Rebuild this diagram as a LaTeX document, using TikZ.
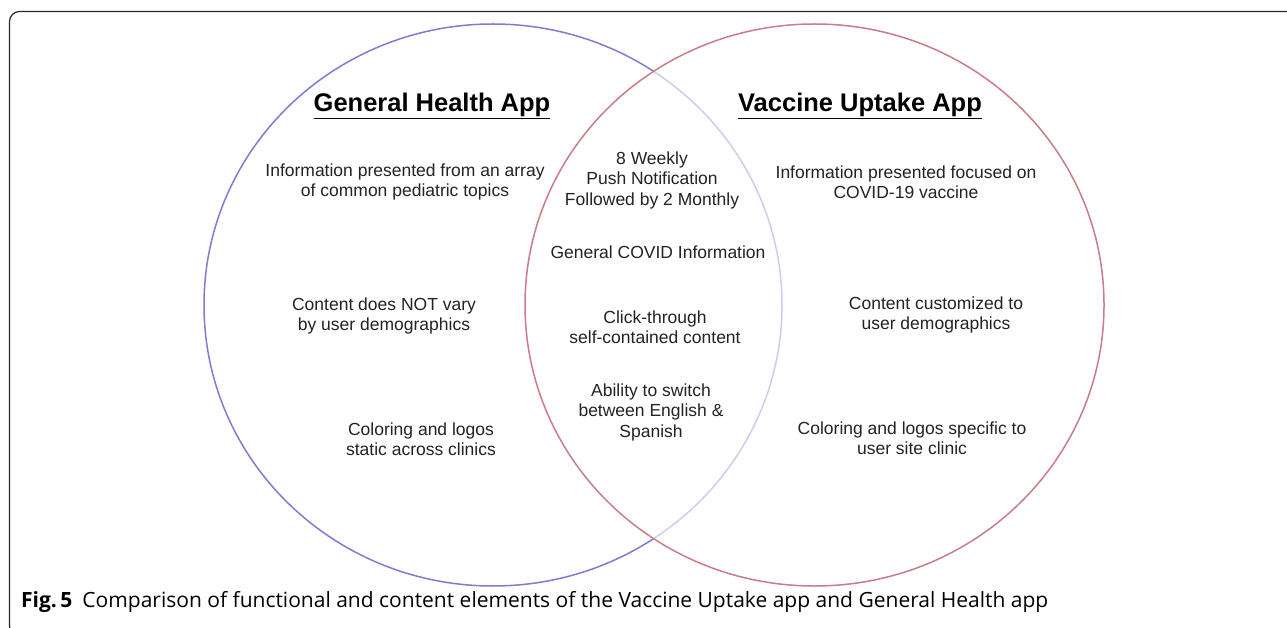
\documentclass[tikz,border=0pt]{standalone}
\usepackage{fontspec}
\setmainfont{Liberation Sans}
\newfontfamily\capfont{Open Sans}
\definecolor{vblue}{RGB}{125,125,208}
\definecolor{vred}{RGB}{200,125,135}
\definecolor{txt}{RGB}{35,35,35}
\definecolor{framec}{RGB}{40,40,40}
\tikzset{
  body/.style={align=center, text=txt, font=\fontsize{17.5}{20.5}\selectfont, inner sep=0pt},
  title/.style={align=center, text=black, font=\fontsize{25.5}{28}\selectfont\bfseries, inner sep=0pt},
}
\begin{document}
\begin{tikzpicture}[x=1pt,y=-1pt]
\clip (0,0) rectangle (1287,628);
\fill[white] (0,0) rectangle (1287,628);
% frame
\draw[framec, line width=1.2pt, rounded corners=10pt] (1300,11.5) -- (9.5,11.5) -- (9.5,636) -- (30,636);
% circles
\draw[vblue, line width=1.5pt] (493,305) ellipse [x radius=289, y radius=281];
\draw[vred, line width=1.5pt, fill=white, fill opacity=0.62] (814.5,305) ellipse [x radius=289.5, y radius=281];
% titles
\node[title] (tg) at (432,106) {\underline{General Health App}};
\node[title] (tv) at (860,106) {\underline{Vaccine Uptake App}};
% left
\node[body] (l1) at (405,182) {Information presented from an array\\of common pediatric topics};
\node[body] (l2) at (384,316) {Content does NOT vary\\by user demographics};
\node[body] (l3) at (421,439) {Coloring and logos\\static across clinics};
% middle
\node[body] (m1) at (652,180) {8 Weekly\\Push Notification\\Followed by 2 Monthly};
\node[body] (m2) at (658,252) {General COVID Information};
\node[body] (m3) at (655,327) {Click-through\\self-contained content};
\node[body] (m4) at (651,412) {Ability to switch\\between English \&\\Spanish};
% right
\node[body] (r1) at (906,182) {Information presented focused on\\COVID-19 vaccine};
\node[body] (r2) at (936,315) {Content customized to\\user demographics};
\node[body] (r3) at (912,438) {Coloring and logos specific to\\user site clinic};
% caption
\node[anchor=base west, inner sep=0pt, font=\capfont\fontsize{21}{23}\selectfont, text=black] (cap) at (21,607)
  {\textbf{Fig.\,5}\hspace{10pt}Comparison of functional and content elements of the Vaccine Uptake app and General Health app};
\end{tikzpicture}
\end{document}
